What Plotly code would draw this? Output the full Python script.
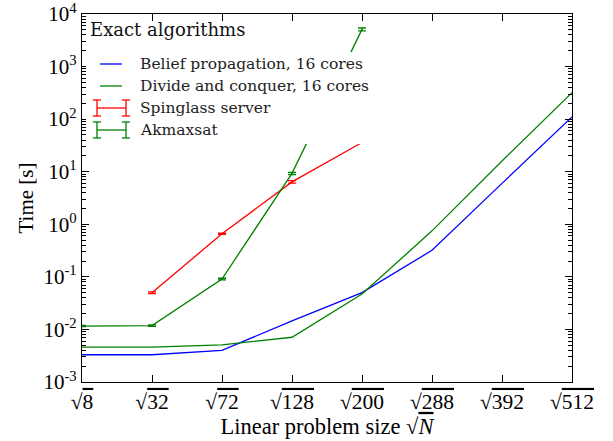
import numpy as np
import plotly.graph_objects as go

# Problem sizes N (x axis shows sqrt(N))
sizes = [8, 32, 72, 128, 200, 288, 392, 512]
size_labels = ["8", "32", "72", "128", "200", "288", "392", "512"]

# Run times in seconds
bp_times = [0.0033, 0.0033, 0.0040, 0.0145, 0.050, 0.32, 6.0, 110]
dc_times = [0.0046, 0.0046, 0.0051, 0.0071, 0.047, 0.75, 16, 320]

spin_sizes = [32, 72, 128, 200]
spin_times = [0.050, 0.66, 6.4, 36]
spin_err = [0.002, 0.015, 0.35, 1.5]

akm_sizes = [8, 32, 72, 128, 200]
akm_times = [0.0116, 0.0118, 0.091, 9.3, 5100]
akm_err = [0.0003, 0.0004, 0.003, 0.45, 320]

y_tick_exp = [-3, -2, -1, 0, 1, 2, 3, 4]

SERIF_MATH = "Liberation Serif"
SERIF_TEXT = "DejaVu Serif"

x_all = np.sqrt(sizes)
x_spin = np.sqrt(spin_sizes)
x_akm = np.sqrt(akm_sizes)

fig = go.Figure()
fig.add_trace(go.Scatter(x=x_all, y=bp_times, mode="lines",
                         line=dict(color="#0000ff", width=1.3), showlegend=False))
fig.add_trace(go.Scatter(x=x_all, y=dc_times, mode="lines",
                         line=dict(color="#008000", width=1.3), showlegend=False))
fig.add_trace(go.Scatter(x=x_spin, y=spin_times, mode="lines",
                         line=dict(color="#ff0000", width=1.3),
                         error_y=dict(type="data", array=spin_err, color="#ff0000",
                                      thickness=1.3, width=4),
                         showlegend=False))
fig.add_trace(go.Scatter(x=x_akm, y=akm_times, mode="lines",
                         line=dict(color="#008000", width=1.3),
                         error_y=dict(type="data", array=akm_err, color="#008000",
                                      thickness=1.3, width=4),
                         showlegend=False))

# Plot area in pixels
L, R, T, B = 82, 572, 14, 382
W, H = 613, 441


def px(xp):
    return (xp - L) / (R - L)


def py(yp):
    return (B - yp) / (B - T)


shapes = []
annotations = []

# Legend panel (opaque, drawn over the data)
shapes.append(dict(type="rect", xref="paper", yref="paper", layer="above",
                   x0=px(86), x1=px(367), y0=py(144), y1=py(52),
                   fillcolor="white", line=dict(width=0)))

legend_items = [
    ("Belief propagation, 16 cores", "#0000ff", False, 64),
    ("Divide and conquer, 16 cores", "#008000", False, 86),
    ("Spinglass server", "#ff0000", True, 108),
    ("Akmaxsat", "#008000", True, 130),
]
for label, color, has_caps, yy in legend_items:
    if has_caps:
        x0, x1 = 97, 126
        shapes.append(dict(type="line", xref="paper", yref="paper", layer="above",
                           x0=px(x0), x1=px(x1), y0=py(yy), y1=py(yy),
                           line=dict(color=color, width=1.3)))
        for xc in (x0, x1):
            shapes.append(dict(type="line", xref="paper", yref="paper", layer="above",
                               x0=px(xc), x1=px(xc), y0=py(yy - 8), y1=py(yy + 8),
                               line=dict(color=color, width=1.3)))
            shapes.append(dict(type="line", xref="paper", yref="paper", layer="above",
                               x0=px(xc - 4), x1=px(xc + 4), y0=py(yy - 8), y1=py(yy - 8),
                               line=dict(color=color, width=1.3)))
            shapes.append(dict(type="line", xref="paper", yref="paper", layer="above",
                               x0=px(xc - 4), x1=px(xc + 4), y0=py(yy + 8), y1=py(yy + 8),
                               line=dict(color=color, width=1.3)))
    else:
        shapes.append(dict(type="line", xref="paper", yref="paper", layer="above",
                           x0=px(100), x1=px(122), y0=py(yy), y1=py(yy),
                           line=dict(color=color, width=1.3)))
    annotations.append(dict(text=label, xref="paper", yref="paper",
                            x=px(138), y=py(yy), xanchor="left", yanchor="middle",
                            showarrow=False,
                            font=dict(family=SERIF_TEXT, size=15.5, color="#222")))

annotations.append(dict(text="Exact algorithms", xref="paper", yref="paper",
                        x=px(88), y=py(29), xanchor="left", yanchor="middle",
                        showarrow=False,
                        font=dict(family=SERIF_TEXT, size=18, color="#111")))


def sqrt_label(s):
    return "√<span style='text-decoration:overline'>" + s + "</span>"


minor_vals = [k * 10.0 ** e for e in range(-3, 4) for k in range(2, 10)]

fig.update_layout(
    width=W, height=H,
    margin=dict(l=L, r=W - R, t=T, b=H - B),
    paper_bgcolor="white", plot_bgcolor="white",
    showlegend=False,
    shapes=shapes,
    annotations=annotations,
    xaxis=dict(
        automargin=False,
        ticklabeloverflow="allow",
        range=[np.sqrt(8), np.sqrt(512)],
        tickmode="array", tickvals=x_all,
        ticktext=[sqrt_label(s) for s in size_labels],
        ticks="inside", ticklen=7, tickwidth=1, tickcolor="black",
        showline=True, linecolor="black", linewidth=1.2, mirror="allticks",
        showgrid=False, zeroline=False,
        tickfont=dict(family=SERIF_MATH, size=21.5, color="black"),
        title=dict(text="Linear problem size √<span style='text-decoration:overline'><i>N</i></span>",
                   font=dict(family=SERIF_MATH, size=22.5, color="black"), standoff=4),
    ),
    yaxis=dict(
        automargin=False,
        ticklabeloverflow="allow",
        type="log", range=[-3, 4],
        tickmode="array", tickvals=[10.0 ** e for e in y_tick_exp],
        ticktext=["10<sup>%d</sup>" % e for e in y_tick_exp],
        ticks="inside", ticklen=7, tickwidth=1, tickcolor="black",
        minor=dict(tickmode="array", tickvals=minor_vals, ticks="inside",
                   ticklen=4, tickwidth=1, tickcolor="black", showgrid=False),
        showline=True, linecolor="black", linewidth=1.2, mirror="allticks",
        showgrid=False, zeroline=False,
        tickfont=dict(family=SERIF_MATH, size=21, color="black"),
        title=dict(text="Time [s]", font=dict(family=SERIF_MATH, size=21, color="black"),
                   standoff=4),
    ),
)

fig.write_html("out.html")
